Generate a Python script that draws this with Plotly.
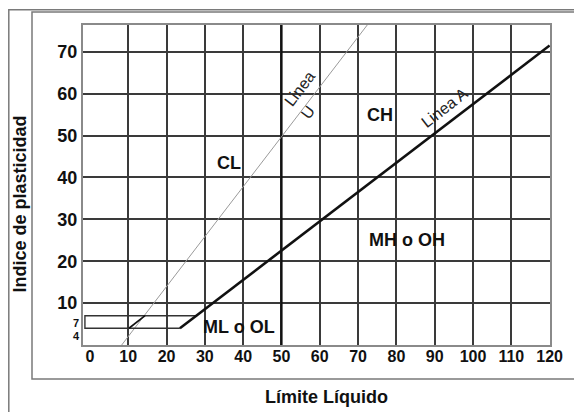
import plotly.graph_objects as go

# ---------------- data ----------------
x_ticks = [0, 10, 20, 30, 40, 50, 60, 70, 80, 90, 100, 110, 120]
x_grid = [10, 20, 30, 40, 50, 60, 70, 80, 90, 100, 110, 120]
y_ticks = [10, 20, 30, 40, 50, 60, 70]
y_small_ticks = [4, 7]

# Línea A (thick)
a_line_x = [23.5, 120]
a_line_y = [4, 71.5]
# Línea U (thin, grey)
u_line_x = [8.3, 72.4]
u_line_y = [0, 76.4]
# CL-ML zone box between PI 4 and 7
zone_x = [23.5, -1.3, -1.3, 28.0]
zone_y = [4, 4, 7, 7]
# short dark segment inside zone
zone_seg_x = [10.2, 14.4]
zone_seg_y = [4, 7]
# emphasised LL = 50 line
ll50_x = [50, 50]
ll50_y = [0, 76.4]

zone_labels = ["CL", "CH", "MH o OH", "ML o OL"]
zone_label_x = [36.3, 75.7, 82.8, 38.9]
zone_label_y = [43.4, 55.0, 25.0, 4.4]

X_RANGE = [-1.8, 120.1]
Y_RANGE = [0, 76.4]

# ---------------- layout geometry ----------------
# the page has an 8px body margin, so the figure starts at (8, 8)
OFF = 8
W, H = 582 - OFF, 412 - OFF
L, T = 83 - OFF, 25 - OFF
R = W - (550 - OFF)
B = H - (345 - OFF)
PW, PH = W - L - R, H - T - B


def px(xp):  # page pixel -> paper x
    return (xp - OFF - L) / PW


def py(yp):  # page pixel -> paper y
    return (H - B - (yp - OFF)) / PH


FONT = "Liberation Sans, Arial, sans-serif"
TXT = "#111111"

fig = go.Figure()

fig.add_trace(go.Scatter(x=ll50_x, y=ll50_y, mode="lines",
                         line=dict(color="#111111", width=2.3),
                         hoverinfo="skip", showlegend=False))
fig.add_trace(go.Scatter(x=u_line_x, y=u_line_y, mode="lines",
                         line=dict(color="#9a9a9a", width=1),
                         hoverinfo="skip", showlegend=False))
fig.add_trace(go.Scatter(x=zone_x, y=zone_y, mode="lines",
                         line=dict(color="#333333", width=1.4),
                         hoverinfo="skip", showlegend=False))
fig.add_trace(go.Scatter(x=zone_seg_x, y=zone_seg_y, mode="lines",
                         line=dict(color="#111111", width=1.6),
                         hoverinfo="skip", showlegend=False))
fig.add_trace(go.Scatter(x=a_line_x, y=a_line_y, mode="lines",
                         line=dict(color="#111111", width=2.6),
                         hoverinfo="skip", showlegend=False))
# dummy trace so the overlay axes are active
fig.add_trace(go.Scatter(x=[None], y=[None], xaxis="x2", yaxis="y2",
                         showlegend=False, hoverinfo="skip"))

for t, x, y in zip(zone_labels, zone_label_x, zone_label_y):
    fig.add_annotation(x=x, y=y, text=t, showarrow=False,
                       xanchor="center", yanchor="middle",
                       font=dict(family=FONT, size=18, color=TXT, weight="bold"))

fig.add_annotation(x=56.9, y=59.8, text="Linea<br>U", showarrow=False,
                   textangle=-52.6, align="left",
                   xanchor="center", yanchor="middle",
                   font=dict(family=FONT, size=16, color="#222222"))
fig.add_annotation(x=92.7, y=56.6, text="Linea A", showarrow=False,
                   textangle=-38, xanchor="center", yanchor="middle",
                   font=dict(family=FONT, size=16, color="#222222"))

# axis titles
fig.add_annotation(xref="paper", yref="paper", x=px(326), y=py(397),
                   text="Límite Líquido", showarrow=False,
                   xanchor="center", yanchor="middle",
                   font=dict(family=FONT, size=18, color=TXT, weight="bold"))
fig.add_annotation(xref="paper", yref="paper", x=px(19.5), y=py(204),
                   text="Indice de plasticidad", showarrow=False, textangle=-90,
                   xanchor="center", yanchor="middle",
                   font=dict(family=FONT, size=18, color=TXT, weight="bold"))

# frames
frame = dict(color="#7a7a7a", width=1.5)
fig.add_shape(type="rect", xref="paper", yref="paper",
              x0=px(32), x1=px(620), y0=py(379), y1=py(12),
              line=frame, layer="below")
fig.add_shape(type="rect", xref="paper", yref="paper",
              x0=px(8.8), x1=px(640), y0=py(440), y1=py(9.8),
              line=frame, layer="below")

fig.update_layout(
    width=W, height=H,
    margin=dict(l=L, r=R, t=T, b=B, autoexpand=False),
    paper_bgcolor="white", plot_bgcolor="white",
    xaxis=dict(range=X_RANGE, tickvals=x_grid, showticklabels=False,
               showgrid=True, gridcolor="#3a3a3a", gridwidth=1.5,
               zeroline=False, showline=True, mirror=True, automargin=False,
               linecolor="#8a8a8a", linewidth=2, ticks=""),
    yaxis=dict(range=Y_RANGE, tickvals=y_ticks,
               showgrid=True, gridcolor="#3a3a3a", gridwidth=1.5,
               zeroline=False, showline=True, mirror=True, automargin=False,
               linecolor="#8a8a8a", linewidth=2, ticks="",
               tickfont=dict(family=FONT, size=18, color=TXT, weight="bold")),
    xaxis2=dict(range=X_RANGE, overlaying="x", side="bottom", anchor="y",
                tickvals=x_ticks, showgrid=False, zeroline=False,
                showline=False, ticks="", automargin=False,
                tickfont=dict(family=FONT, size=16, color=TXT, weight="bold")),
    yaxis2=dict(range=Y_RANGE, overlaying="y", side="left", anchor="x",
                tickvals=y_small_ticks, showgrid=False, zeroline=False,
                showline=False, ticks="", automargin=False,
                ticklabelposition="outside bottom", ticklabelstandoff=3,
                tickfont=dict(family=FONT, size=11, color=TXT, weight="bold")),
)

fig.write_html("out.html")
